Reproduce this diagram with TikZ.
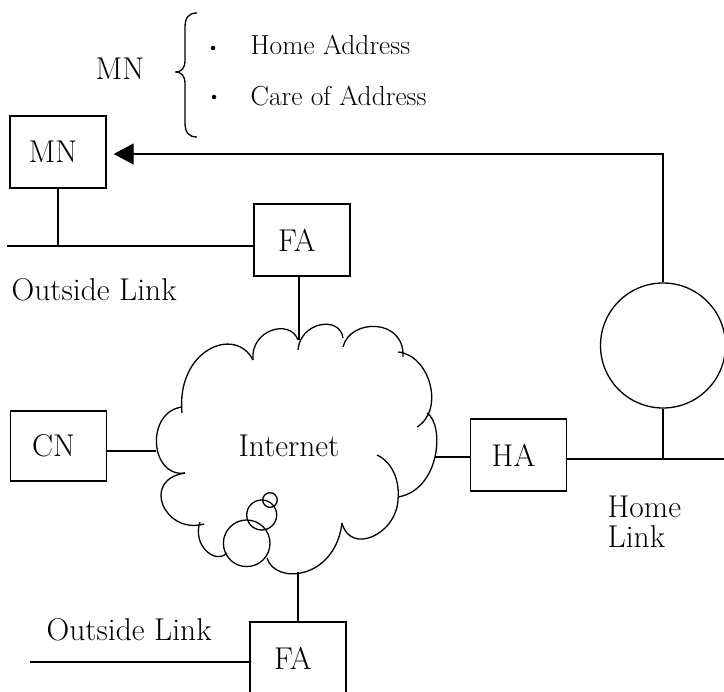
\documentclass[tikz,border=0pt]{standalone}
\usepackage{fontspec}
\usetikzlibrary{arrows.meta}
\begin{document}
\begin{tikzpicture}[x=1pt,y=-1pt,line width=1.3pt,
  every node/.style={inner sep=0pt},
  big/.style={font=\fontsize{31.5}{36}\selectfont},
  small/.style={font=\fontsize{27.5}{32}\selectfont},
  box/.style={draw,big,minimum width=96pt,minimum height=72pt,
    execute at begin node={\hspace*{-10pt}}},
  dot/.style={circle,fill,minimum size=4.5pt}]
\useasboundingbox (0,0) rectangle (724,692);
\clip (0,0) rectangle (724,692);
% legend
\node[big] (mntop) at (120,69) {MN};
\draw (197,13) .. controls (188,13) and (185,18) .. (185,28) -- (185,60)
  .. controls (185,68) and (182,72) .. (175,72)
  .. controls (182,72) and (185,76) .. (185,84) -- (185,122)
  .. controls (185,132) and (188,137) .. (197,137);
\node[dot] (b1) at (213,48) {};
\node[dot] (b2) at (214,97) {};
\node[small,anchor=west] (home) at (250,44.5) {Home Address};
\node[small,anchor=west] (care) at (250,96) {Care of Address};
% boxes
\node[box] (mn) at (58,152) {MN};
\node[box] (fa1) at (302,240) {FA};
\node[box,minimum height=70pt] (cn) at (58.5,446) {CN};
\node[box] (ha) at (518.5,455) {HA};
\node[box] (fa2) at (298,658) {FA};
\node[draw,circle,minimum size=125pt] (circ) at (663,345.5) {};
% labels
\node[big,anchor=west] (ol1lbl) at (11,290) {Outside Link};
\node[big,anchor=west] (ol2lbl) at (46,630) {Outside Link};
\node[big] (inet) at (289,446) {Internet};
\node[big,anchor=base west] (homelbl) at (607,518) {Home};
\node[big,anchor=base west] (linklbl) at (607,548) {Link};
% cloud
\draw (253,360) .. controls (250,330) and (290,318) .. (298,340);
\draw (298,350) .. controls (300,322) and (340,315) .. (343,338);
\draw (343,347) .. controls (350,318) and (405,318) .. (403,357);
\draw (398,352) .. controls (430,355) and (445,410) .. (417,427);
\draw (427,413) .. controls (445,425) and (440,490) .. (398,497);
\draw (377,455) .. controls (392,462) and (400,480) .. (398,500)
  .. controls (396,535) and (350,555) .. (342,523);
\draw (342,523) .. controls (335,580) and (275,585) .. (267,558);
\draw (200,522) .. controls (192,545) and (215,565) .. (227,553);
\draw (204,524) .. controls (165,535) and (140,480) .. (185,473);
\draw (185,473) .. controls (150,478) and (145,412) .. (182,407);
\draw (182,413) .. controls (176,350) and (235,325) .. (253,360);
\draw (246.7,543.3) circle[radius=23.3];
\draw (261.7,515) circle[radius=15];
\draw (270,500) circle[radius=7.3];
\coordinate (ctop) at (299,340);
\coordinate (cleft) at (156,451);
\coordinate (cright) at (435,457);
\coordinate (cbot) at (298,572);
% connectors
\coordinate (tr) at (663,154);
\draw[-{Triangle[length=20pt,width=21pt]},shorten >=7pt] (circ.north) -- (tr) -- (tr -| mn.east);
\coordinate (ol1) at (7,246);
\draw (ol1) -- (ol1 -| fa1.west);
\draw (mn.south) -- (mn.south |- ol1);
\draw (ctop |- fa1.south) -- (ctop);
\draw (cleft -| cn.east) -- (cleft);
\draw (cright) -- (cright -| ha.west);
\coordinate (hl) at (726,459);
\draw (ha.east |- hl) -- (hl);
\draw (circ.south) -- (circ.south |- hl);
\draw (cbot) -- (cbot |- fa2.north);
\coordinate (ol2) at (30,662);
\draw (ol2) -- (ol2 -| fa2.west);
\end{tikzpicture}
\end{document}
